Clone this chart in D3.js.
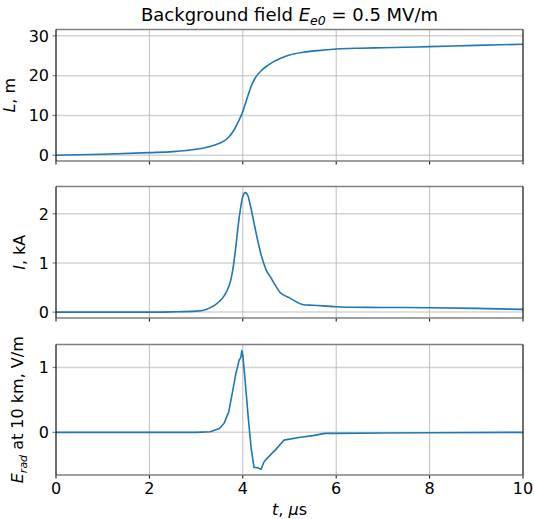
<!DOCTYPE html>
<html>
<head>
<meta charset="utf-8">
<script src="https://cdn.jsdelivr.net/npm/d3@7"></script>
<style>
  body { margin: 0; background: #fff; }
  text { font-family: "DejaVu Sans", sans-serif; fill: #000; }
</style>
</head>
<body>
<script>
const width = 534;
const height = 519;

// time ticks, microseconds
const xTicks = [0, 2, 4, 6, 8, 10];

// channel length L, m
const tLen = [0, 1, 2, 2.5, 3, 3.3, 3.5, 3.6, 3.7, 3.8, 3.9, 3.95, 4.0, 4.05, 4.1, 4.15, 4.2, 4.25, 4.3, 4.4, 4.5, 4.6, 4.8, 5.0, 5.3, 5.6, 6.0, 6.5, 7, 8, 9, 10];
const lenVals = [0, 0.25, 0.65, 0.9, 1.5, 2.2, 3.0, 3.6, 4.6, 6.1, 8.3, 9.6, 11.0, 12.8, 14.6, 16.4, 17.9, 19.1, 20.0, 21.3, 22.3, 23.1, 24.3, 25.2, 25.9, 26.3, 26.7, 26.9, 27.0, 27.3, 27.6, 27.9];
const lenTicks = [0, 10, 20, 30];

// current I, kA
const tCur = [0, 1, 2, 2.5, 3, 3.2, 3.4, 3.5, 3.6, 3.7, 3.75, 3.8, 3.85, 3.9, 3.95, 4.0, 4.05, 4.1, 4.15, 4.2, 4.25, 4.3, 4.35, 4.4, 4.5, 4.6, 4.7, 4.8, 5.0, 5.3, 5.5, 6.0, 6.3, 7, 8, 9, 10];
const curVals = [0, 0, 0, 0.005, 0.02, 0.05, 0.14, 0.22, 0.33, 0.52, 0.68, 0.95, 1.32, 1.75, 2.1, 2.35, 2.43, 2.39, 2.22, 2.0, 1.77, 1.54, 1.33, 1.14, 0.86, 0.7, 0.54, 0.4, 0.29, 0.15, 0.14, 0.11, 0.1, 0.095, 0.09, 0.075, 0.055];
const curTicks = [0, 1, 2];

// radiated field at 10 km, V/m
const tRad = [0, 1, 2, 3, 3.3, 3.5, 3.6, 3.7, 3.8, 3.85, 3.92, 3.96, 3.98, 4.0, 4.05, 4.12, 4.18, 4.24, 4.32, 4.39, 4.45, 4.52, 4.6, 4.7, 4.88, 5.2, 5.5, 5.76, 6, 7, 8, 10];
const radVals = [0, 0, 0, 0, 0.01, 0.06, 0.14, 0.32, 0.7, 0.9, 1.11, 1.16, 1.26, 1.19, 0.8, 0.2, -0.25, -0.54, -0.545, -0.57, -0.46, -0.4, -0.34, -0.27, -0.12, -0.08, -0.05, -0.015, -0.015, -0.01, -0.005, 0];
const radTicks = [0, 1];

const left = 56, right = 523;
const x = d3.scaleLinear().domain([0, 10]).range([left, right]);

const panels = [
  { top: 29.5, bottom: 161, domain: [-1.45, 31.6], t: tLen, v: lenVals, ticks: lenTicks, labelX: 15,
    curve: d3.curveMonotoneX, label: [["L", "italic"], [", m", "normal"]] },
  { top: 186.5, bottom: 318, domain: [-0.12, 2.555], t: tCur, v: curVals, ticks: curTicks, labelX: 25,
    curve: d3.curveMonotoneX, label: [["I", "italic"], [", kA", "normal"]] },
  { top: 344.5, bottom: 475, domain: [-0.657, 1.354], t: tRad, v: radVals, ticks: radTicks, labelX: 23,
    curve: d3.curveLinear, label: [["E", "italic"], ["rad", "sub"], [" at 10 km, V/m", "normal"]] }
];

const svg = d3.select("body").append("svg")
  .attr("width", width)
  .attr("height", height);

panels.forEach((p, i) => {
  const y = d3.scaleLinear().domain(p.domain).range([p.bottom, p.top]);
  const g = svg.append("g");

  g.append("clipPath").attr("id", "clip" + i)
    .append("rect").attr("x", left).attr("y", p.top)
    .attr("width", right - left).attr("height", p.bottom - p.top);

  // horizontal grid
  g.selectAll(".hgrid").data(p.ticks).join("line")
    .attr("x1", left).attr("x2", right)
    .attr("y1", d => y(d)).attr("y2", d => y(d))
    .attr("stroke", "#d4d4d4").attr("stroke-width", 1.5);

  // vertical grid
  g.selectAll(".vgrid").data(xTicks).join("line")
    .attr("x1", d => x(d)).attr("x2", d => x(d))
    .attr("y1", p.top).attr("y2", p.bottom)
    .attr("stroke", "#b0b0b0").attr("stroke-width", 0.8);

  // y ticks + labels
  g.selectAll(".ytick").data(p.ticks).join("line")
    .attr("x1", left - 3.5).attr("x2", left)
    .attr("y1", d => y(d)).attr("y2", d => y(d))
    .attr("stroke", "#888").attr("stroke-width", 1.2);
  g.selectAll(".ylab").data(p.ticks).join("text")
    .attr("x", left - 7).attr("y", d => y(d))
    .attr("dy", "0.36em").attr("text-anchor", "end")
    .attr("font-size", "16px")
    .text(d => d);

  // x ticks
  g.selectAll(".xtick").data(xTicks).join("line")
    .attr("x1", d => x(d)).attr("x2", d => x(d))
    .attr("y1", p.bottom).attr("y2", p.bottom + 3.5)
    .attr("stroke", "#000").attr("stroke-width", 1);

  // data line
  const line = d3.line().x((d, j) => x(p.t[j])).y(d => y(d)).curve(p.curve);
  g.append("path").datum(p.v)
    .attr("clip-path", `url(#clip${i})`)
    .attr("d", line)
    .attr("fill", "none")
    .attr("stroke", "#1f77b4")
    .attr("stroke-width", 1.6)
    .attr("stroke-linejoin", "round");

  // frame
  g.append("line").attr("x1", left).attr("x2", right).attr("y1", p.top).attr("y2", p.top)
    .attr("stroke", "#808080").attr("stroke-width", 1.6);
  g.append("line").attr("x1", left).attr("x2", right).attr("y1", p.bottom).attr("y2", p.bottom)
    .attr("stroke", "#808080").attr("stroke-width", 1.6);
  g.append("line").attr("x1", left).attr("x2", left).attr("y1", p.top).attr("y2", p.bottom)
    .attr("stroke", "#000").attr("stroke-width", 1);
  g.append("line").attr("x1", right).attr("x2", right).attr("y1", p.top).attr("y2", p.bottom)
    .attr("stroke", "#000").attr("stroke-width", 1);

  // y label
  const cy = (p.top + p.bottom) / 2;
  const lab = g.append("text")
    .attr("transform", `translate(${p.labelX},${cy}) rotate(-90)`)
    .attr("text-anchor", "middle")
    .attr("font-size", "16px");
  p.label.forEach(([s, kind]) => {
    const ts = lab.append("tspan").text(s);
    if (kind === "italic") ts.attr("font-style", "italic");
    if (kind === "sub") ts.attr("font-style", "italic").attr("font-size", "11px").attr("dy", "3.5");
    if (kind === "normal" && p.label.some(l => l[1] === "sub")) ts.attr("dy", "-3.5");
  });
});

// x tick labels on bottom panel
const last = panels[panels.length - 1];
svg.selectAll(".xlab").data(xTicks).join("text")
  .attr("x", d => x(d)).attr("y", last.bottom + 6)
  .attr("dy", "0.8em").attr("text-anchor", "middle")
  .attr("font-size", "16px")
  .text(d => d);

// x label
const xl = svg.append("text")
  .attr("x", (left + right) / 2).attr("y", 515)
  .attr("text-anchor", "middle").attr("font-size", "16px");
xl.append("tspan").attr("font-style", "italic").text("t");
xl.append("tspan").text(", ");
xl.append("tspan").attr("font-style", "italic").text("\u03bc");
xl.append("tspan").text("s");

// title
const title = svg.append("text")
  .attr("x", (left + right) / 2).attr("y", 21)
  .attr("text-anchor", "middle").attr("font-size", "18px");
title.append("tspan").text("Background field ");
title.append("tspan").attr("font-style", "italic").text("E");
title.append("tspan").attr("font-style", "italic").attr("font-size", "12.5px").attr("dy", 3.5).text("e0");
title.append("tspan").attr("dy", -3.5).text(" = 0.5 MV/m");
</script>
</body>
</html>
